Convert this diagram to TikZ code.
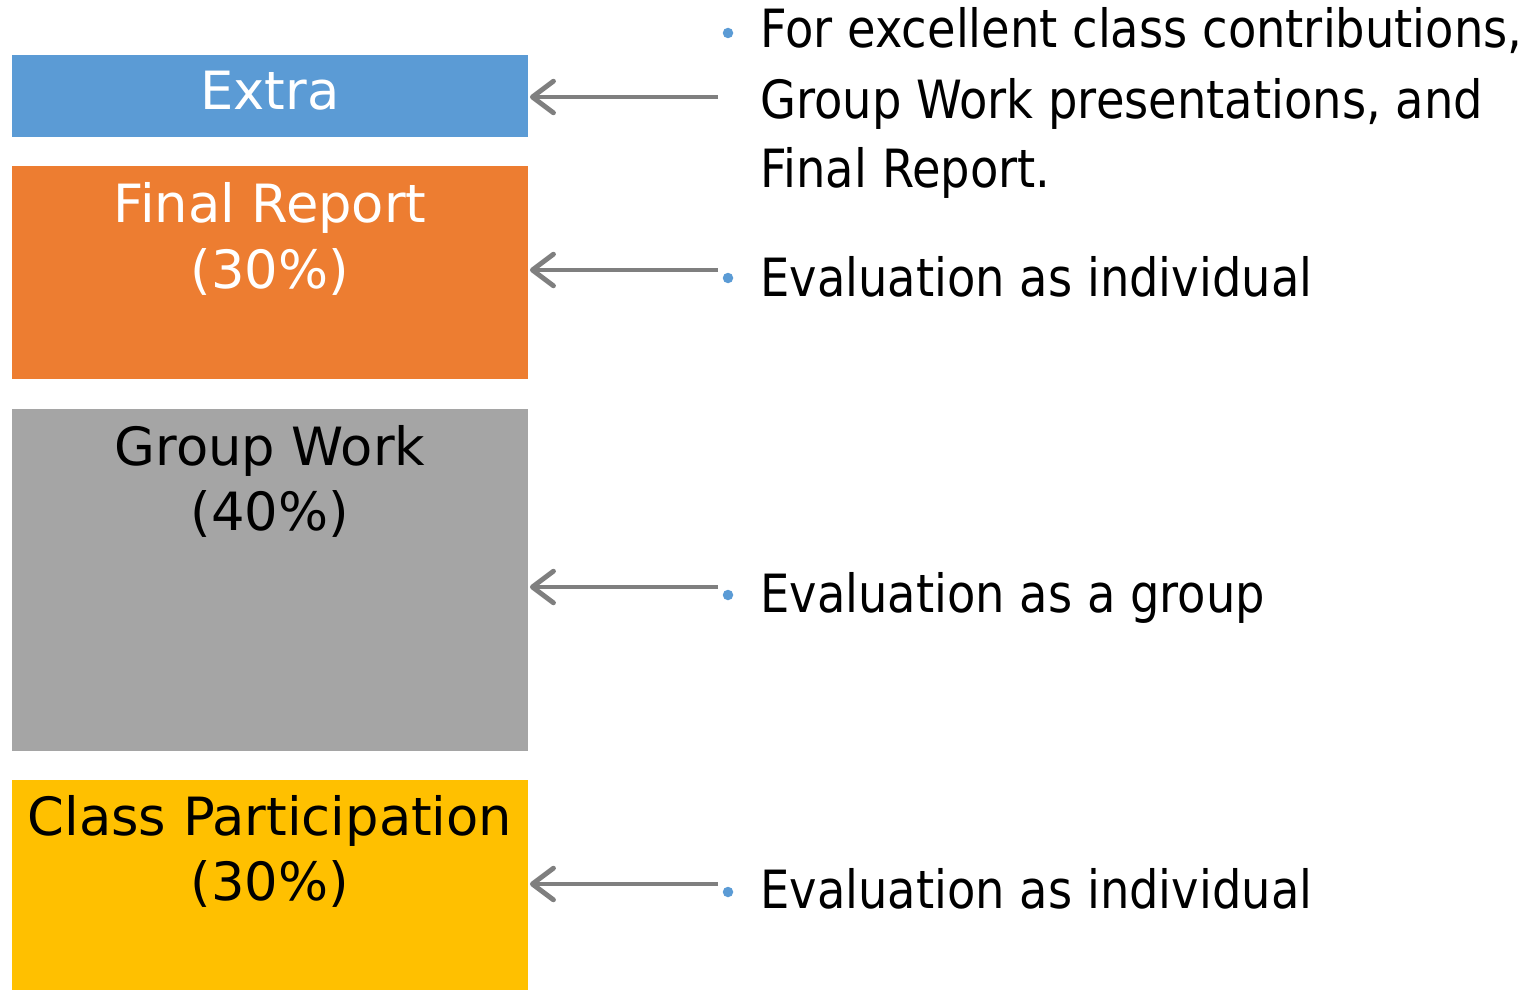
\documentclass[tikz,border=0pt]{standalone}
\usepackage{fontspec}
\setmainfont{DejaVu Sans}
\newfontfamily\rfont[FakeStretch=0.88]{DejaVu Sans}
\usetikzlibrary{arrows.meta}
\definecolor{cblue}{HTML}{5B9BD5}
\definecolor{corange}{HTML}{ED7D31}
\definecolor{cgrey}{HTML}{A5A5A5}
\definecolor{cyellow}{HTML}{FFC000}
\definecolor{carrow}{HTML}{7F7F7F}
\begin{document}
\begin{tikzpicture}[x=0.02cm,y=-0.02cm,
  box/.style={draw=none, minimum width=10.32cm, anchor=north west, inner sep=0, outer sep=0},
  lbl/.style={anchor=base, inner sep=0, font=\fontsize{30}{36}\selectfont},
  txt/.style={anchor=base west, inner sep=0, font=\rfont\fontsize{30}{36}\selectfont},
  bul/.style={circle, fill=cblue, minimum size=0.21cm, inner sep=0},
  arr/.style={draw=carrow, line width=2.8pt, -{Straight Barb[length=12pt, width=18pt, line cap=round, line join=round]}}]
\useasboundingbox (0,0) rectangle (1527,990);
% boxes
\node[box, fill=cblue, minimum height=1.64cm] (extra) at (12,55) {};
\node[box, fill=corange, minimum height=4.26cm] (final) at (12,166) {};
\node[box, fill=cgrey, minimum height=6.84cm] (group) at (12,409) {};
\node[box, fill=cyellow, minimum height=4.2cm] (class) at (12,780) {};
% box labels
\node[lbl, text=white] (extraT) at (270,110) {Extra};
\node[lbl, text=white] (finalT1) at (270,222) {Final Report};
\node[lbl, text=white] (finalT2) at (270,288) {(30\%)};
\node[lbl, text=black] (groupT1) at (270,465) {Group Work};
\node[lbl, text=black] (groupT2) at (270,530) {(40\%)};
\node[lbl, text=black] (classT1) at (270,835) {Class Participation};
\node[lbl, text=black] (classT2) at (270,900) {(30\%)};
% bullets
\node[bul] (b1) at (728,33) {};
\node[bul] (b2) at (728,278) {};
\node[bul] (b3) at (728,595) {};
\node[bul] (b4) at (728,892) {};
% right texts
\node[txt] (r1a) at (760,48) {For excellent class contributions,};
\node[txt] (r1b) at (760,118) {Group Work presentations, and};
\node[txt] (r1c) at (760,187) {Final Report.};
\node[txt] (r2) at (760,296) {Evaluation as individual};
\node[txt] (r3) at (760,612) {Evaluation as a group};
\node[txt] (r4) at (760,908) {Evaluation as individual};
% arrow tails
\coordinate (a1) at (718,97);
\coordinate (a2) at (718,270);
\coordinate (a3) at (718,587);
\coordinate (a4) at (718,884);
\draw[arr] (a1) -- ([xshift=0.04cm]a1 -| extra.east);
\draw[arr] (a2) -- ([xshift=0.04cm]a2 -| final.east);
\draw[arr] (a3) -- ([xshift=0.04cm]a3 -| group.east);
\draw[arr] (a4) -- ([xshift=0.04cm]a4 -| class.east);
\end{tikzpicture}
\end{document}
